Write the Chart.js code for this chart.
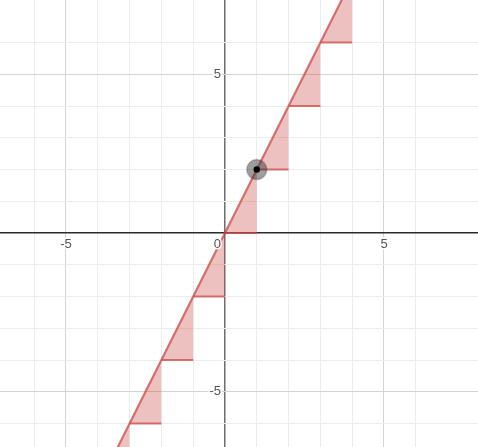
<!DOCTYPE html>
<html>
<head>
<meta charset="utf-8">
<script src="https://cdn.jsdelivr.net/npm/chart.js@4/dist/chart.umd.min.js"></script>
<style>
  html, body { margin: 0; padding: 0; background: #fff; }
  canvas { display: block; }
</style>
</head>
<body>
<canvas id="graph" width="478" height="447"></canvas>
<script>
// y = 2x sampled at the integer corners of the step triangles
const cornerX = [-4, -3, -2, -1, 0, 1, 2, 3, 4];
const cornerY = [-8, -6, -4, -2, 0, 2, 4, 6, 8];

// highlighted point on the line
const dotX = [1];
const dotY = [2];

// labelled ticks
const xTickLabels = [-5, 0, 5];
const yTickLabels = [5, -5];

const viewX = [-7.075, 7.956];
const viewY = [-6.74, 7.34];

const red = 'rgba(199, 68, 64, 0.72)';
const redFill = 'rgba(199, 68, 64, 0.33)';

function gridColor(ctx) {
    const v = ctx.tick.value;
    if (Math.abs(v - Math.round(v)) > 1e-6) return 'rgba(0,0,0,0)';
    if (Math.round(v) === 0) return ctx.scale.axis === 'y' ? '#2b2b2b' : '#6f6f6f';
    return Math.round(v) % 5 === 0 ? '#d4d4d4' : '#ececec';
}

function gridWidth(ctx) {
    return Math.abs(ctx.tick.value) < 1e-6 ? 1.5 : 1;
}

const datasets = [];

// shaded triangles between the line and the step below it
for (let i = 0; i < cornerX.length - 1; i++) {
    datasets.push({
        data: [{x: cornerX[i], y: cornerY[i]}, {x: cornerX[i + 1], y: cornerY[i + 1]}],
        borderWidth: 0,
        pointRadius: 0,
        fill: {value: cornerY[i]},
        backgroundColor: redFill,
        order: 5
    });
    // flat step edge
    datasets.push({
        data: [{x: cornerX[i], y: cornerY[i]}, {x: cornerX[i + 1], y: cornerY[i]}],
        borderColor: red,
        borderWidth: 2,
        pointRadius: 0,
        fill: false,
        order: 4
    });
}

// the line itself
datasets.push({
    data: cornerX.map((x, i) => ({x: x, y: cornerY[i]})),
    borderColor: red,
    borderWidth: 2.2,
    pointRadius: 0,
    fill: false,
    order: 3
});

// point halo and dot
datasets.push({
    data: dotX.map((x, i) => ({x: x, y: dotY[i]})),
    showLine: false,
    pointRadius: 10,
    pointBackgroundColor: 'rgba(40, 40, 40, 0.45)',
    pointBorderColor: 'rgba(40, 40, 40, 0.25)',
    pointBorderWidth: 1.5,
    order: 2
});
datasets.push({
    data: dotX.map((x, i) => ({x: x, y: dotY[i]})),
    showLine: false,
    pointRadius: 3.2,
    pointBackgroundColor: '#000',
    pointBorderWidth: 0,
    order: 1
});

// tick numbers with a white outline, drawn over everything
const axisLabels = {
    id: 'axisLabels',
    afterDatasetsDraw(chart) {
        const c = chart.ctx;
        const sx = chart.scales.x, sy = chart.scales.y;
        const x0 = sx.getPixelForValue(0), y0 = sy.getPixelForValue(0);
        c.save();
        c.font = '13px Arial, "Liberation Sans", sans-serif';
        c.lineWidth = 3;
        c.strokeStyle = 'rgba(255,255,255,0.9)';
        c.fillStyle = '#555';
        c.textBaseline = 'middle';
        xTickLabels.forEach(v => {
            let px = sx.getPixelForValue(v);
            c.textAlign = 'center';
            if (v === 0) { c.textAlign = 'right'; px = x0 - 4; }
            c.strokeText(String(v), px, y0 + 11);
            c.fillText(String(v), px, y0 + 11);
        });
        yTickLabels.forEach(v => {
            c.textAlign = 'right';
            c.strokeText(String(v), x0 - 4, sy.getPixelForValue(v));
            c.fillText(String(v), x0 - 4, sy.getPixelForValue(v));
        });
        c.restore();
    }
};

new Chart(document.getElementById('graph'), {
    type: 'scatter',
    data: {datasets: datasets},
    options: {
        responsive: false,
        animation: false,
        showLine: true,
        layout: {padding: 0, autoPadding: false},
        plugins: {legend: {display: false}, tooltip: {enabled: false}},
        scales: {
            x: {
                type: 'linear',
                min: viewX[0], max: viewX[1],
                ticks: {display: false, stepSize: 1},
                border: {display: false},
                grid: {color: gridColor, lineWidth: gridWidth, drawTicks: false}
            },
            y: {
                type: 'linear',
                min: viewY[0], max: viewY[1],
                ticks: {display: false, stepSize: 1},
                border: {display: false},
                grid: {color: gridColor, lineWidth: gridWidth, drawTicks: false}
            }
        }
    },
    plugins: [axisLabels]
});
</script>
</body>
</html>
